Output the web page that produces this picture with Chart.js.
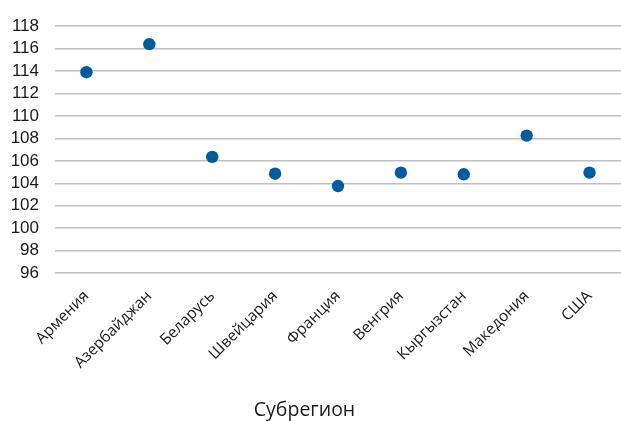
<!DOCTYPE html>
<html>
<head>
<meta charset="utf-8">
<script src="https://cdn.jsdelivr.net/npm/chart.js@4/dist/chart.umd.min.js"></script>
<style>
  html, body { margin: 0; padding: 0; background: #fff; }
  #wrap { width: 621px; height: 421px; }
</style>
</head>
<body>
<div id="wrap"><canvas id="chart"></canvas></div>
<script>
// Subregion index values
const regions = ["Армения", "Азербайджан", "Беларусь", "Швейцария", "Франция",
  "Венгрия", "Кыргызстан", "Македония", "США"];
const values = [113.9, 116.4, 106.35, 104.85, 103.75, 104.95, 104.8, 108.25, 104.95];
const yMin = 96;
const yMax = 118;
const yStep = 2;
const axisTitle = "Субрегион";

const POINT_COLOR = "#005c9c";
const GRID_COLOR = "#c0c0c0";

new Chart(document.getElementById("chart"), {
  type: "line",
  data: {
    labels: regions,
    datasets: [{
      data: values,
      showLine: false,
      pointRadius: 6.2,
      pointHoverRadius: 6.2,
      pointBackgroundColor: POINT_COLOR,
      pointBorderColor: POINT_COLOR,
      pointBorderWidth: 0,
    }],
  },
  options: {
    responsive: true,
    maintainAspectRatio: false,
    animation: false,
    layout: { autoPadding: false, padding: { top: 13.5, right: 0, bottom: 0, left: 0 } },
    plugins: {
      legend: { display: false },
      tooltip: { enabled: false },
    },
    scales: {
      x: {
        offset: true,
        grid: { display: false, drawTicks: false },
        border: { display: false },
        ticks: {
          autoSkip: false,
          maxRotation: 45,
          minRotation: 45,
          padding: 14,
          color: "#1a1a1a",
          font: { family: "'Open Sans', sans-serif", size: 15.5 },
        },
        afterFit(scale) {
          scale.height = 148;
          scale.paddingRight = 0;
        },
      },
      y: {
        min: yMin,
        max: yMax,
        grid: { color: GRID_COLOR, lineWidth: 1.5, drawTicks: false },
        border: { display: false },
        ticks: {
          autoSkip: false,
          stepSize: yStep,
          padding: 16,
          color: "#1a1a1a",
          font: { family: "'Liberation Sans', sans-serif", size: 17 },
        },
        afterFit(scale) { scale.width = 55; },
      },
    },
  },
  plugins: [{
    // the reference centres the axis title on the whole picture, not the plot
    id: "axisTitle",
    afterDraw(chart) {
      const ctx = chart.ctx;
      ctx.save();
      ctx.fillStyle = "#1a1a1a";
      ctx.font = "19.5px 'Open Sans', sans-serif";
      ctx.textAlign = "center";
      ctx.textBaseline = "middle";
      ctx.fillText(axisTitle, chart.width / 2 - 6, 410);
      ctx.restore();
    },
  }],
});
</script>
</body>
</html>
